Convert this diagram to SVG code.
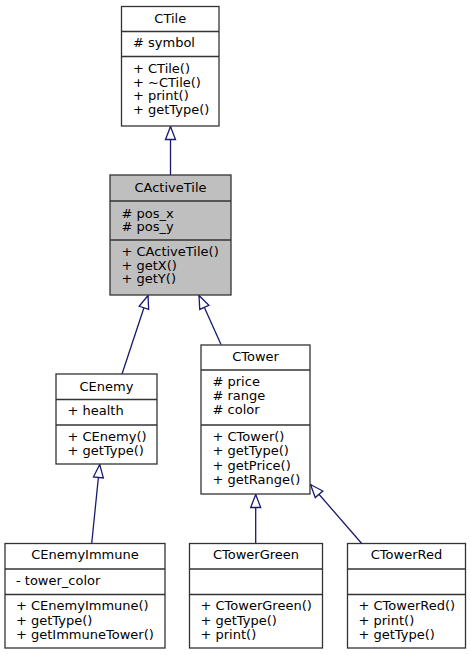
<svg xmlns="http://www.w3.org/2000/svg" width="471" height="655" viewBox="0 0 471 655">
<style>
.box{fill:#ffffff;stroke:#333333;stroke-width:1.3}
.hl{fill:#bfbfbf}
.sep{stroke:#333333;stroke-width:1.3}
text{font-family:"DejaVu Sans","Liberation Sans",sans-serif;font-size:13px;fill:#000000}
.c{text-anchor:middle}
.e{stroke:#191970;stroke-width:1.3;fill:none;marker-end:url(#tri)}
</style>
<defs>
<marker id="tri" markerUnits="userSpaceOnUse" markerWidth="16" markerHeight="14" refX="13" refY="6" orient="auto" viewBox="-1 -1 16 14">
<path d="M0,1 L13,6 L0,11 Z" fill="#ffffff" stroke="#191970" stroke-width="1.3"/>
</marker>
</defs>
<rect width="471" height="655" fill="#ffffff"/>
<g id="edges">
<line class="e" x1="170.5" y1="175" x2="170.5" y2="126.5"/>
<line class="e" x1="122" y1="374" x2="148" y2="295.5"/>
<line class="e" x1="221" y1="344.5" x2="199" y2="295.5"/>
<line class="e" x1="91.7" y1="543.5" x2="99.7" y2="464.5"/>
<line class="e" x1="255.7" y1="543.5" x2="255.7" y2="494.5"/>
<line class="e" x1="361.7" y1="543.5" x2="310.5" y2="484.5"/>
</g>
<g id="CTile">
<rect class="box" x="121.5" y="6.5" width="97.5" height="119.5"/>
<line class="sep" x1="121.5" y1="31.5" x2="219" y2="31.5"/>
<line class="sep" x1="121.5" y1="56.5" x2="219" y2="56.5"/>
<text class="c" x="170.25" y="23">CTile</text>
<text x="133" y="47">#  symbol</text>
<text x="133" y="73">+  CTile()</text>
<text x="133" y="86.5">+  ~CTile()</text>
<text x="133" y="100">+  print()</text>
<text x="133" y="113.5">+  getType()</text>
</g>
<g id="CActiveTile">
<rect class="box hl" x="110" y="175" width="121" height="120"/>
<line class="sep" x1="110" y1="201" x2="231" y2="201"/>
<line class="sep" x1="110" y1="240" x2="231" y2="240"/>
<text class="c" x="170.5" y="191.5">CActiveTile</text>
<text x="121.5" y="217.5">#  pos_x</text>
<text x="121.5" y="231">#  pos_y</text>
<text x="121.5" y="256">+  CActiveTile()</text>
<text x="121.5" y="269.5">+  getX()</text>
<text x="121.5" y="283">+  getY()</text>
</g>
<g id="CEnemy">
<rect class="box" x="56" y="374" width="101" height="90"/>
<line class="sep" x1="56" y1="399.5" x2="157" y2="399.5"/>
<line class="sep" x1="56" y1="425" x2="157" y2="425"/>
<text class="c" x="106.5" y="390.5">CEnemy</text>
<text x="67.5" y="415">+  health</text>
<text x="67.5" y="440.5">+  CEnemy()</text>
<text x="67.5" y="454.5">+  getType()</text>
</g>
<g id="CTower">
<rect class="box" x="201" y="345" width="109" height="149"/>
<line class="sep" x1="201" y1="370" x2="310" y2="370"/>
<line class="sep" x1="201" y1="425" x2="310" y2="425"/>
<text class="c" x="255.5" y="361">CTower</text>
<text x="212.5" y="385.5">#  price</text>
<text x="212.5" y="400">#  range</text>
<text x="212.5" y="414">#  color</text>
<text x="212.5" y="441">+  CTower()</text>
<text x="212.5" y="455">+  getType()</text>
<text x="212.5" y="469.5">+  getPrice()</text>
<text x="212.5" y="484">+  getRange()</text>
</g>
<g id="CEnemyImmune">
<rect class="box" x="5" y="543.5" width="160" height="104.5"/>
<line class="sep" x1="5" y1="569" x2="165" y2="569"/>
<line class="sep" x1="5" y1="594.5" x2="165" y2="594.5"/>
<text class="c" x="85" y="559">CEnemyImmune</text>
<text x="16" y="584.5">-  tower_color</text>
<text x="16" y="610">+  CEnemyImmune()</text>
<text x="16" y="624.5">+  getType()</text>
<text x="16" y="639">+  getImmuneTower()</text>
</g>
<g id="CTowerGreen">
<rect class="box" x="189.5" y="543.5" width="133" height="104.5"/>
<line class="sep" x1="189.5" y1="569" x2="322.5" y2="569"/>
<line class="sep" x1="189.5" y1="594.5" x2="322.5" y2="594.5"/>
<text class="c" x="256" y="559">CTowerGreen</text>
<text x="200.5" y="610">+  CTowerGreen()</text>
<text x="200.5" y="624.5">+  getType()</text>
<text x="200.5" y="639">+  print()</text>
</g>
<g id="CTowerRed">
<rect class="box" x="347.5" y="543.5" width="118" height="104.5"/>
<line class="sep" x1="347.5" y1="569" x2="465.5" y2="569"/>
<line class="sep" x1="347.5" y1="594.5" x2="465.5" y2="594.5"/>
<text class="c" x="406.5" y="559">CTowerRed</text>
<text x="358.5" y="610">+  CTowerRed()</text>
<text x="358.5" y="624.5">+  print()</text>
<text x="358.5" y="639">+  getType()</text>
</g>
</svg>
